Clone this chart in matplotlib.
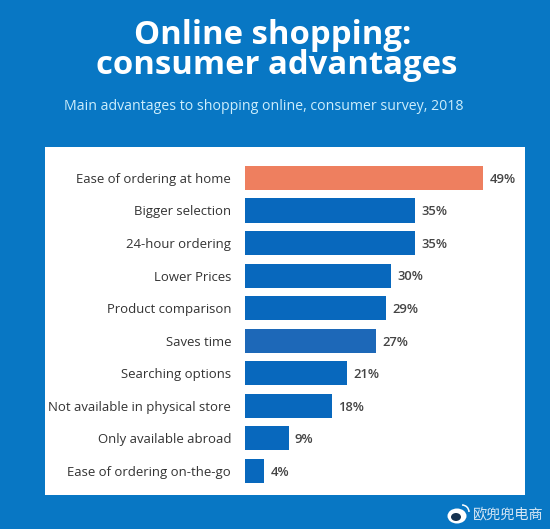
import matplotlib
matplotlib.use("Agg")
import matplotlib.pyplot as plt
from matplotlib.patches import Rectangle, Ellipse, Arc

categories = [
    "Ease of ordering at home", "Bigger selection", "24-hour ordering",
    "Lower Prices", "Product comparison", "Saves time", "Searching options",
    "Not available in physical store", "Only available abroad",
    "Ease of ordering on-the-go",
]
values = [49, 35, 35, 30, 29, 27, 21, 18, 9, 4]
bar_colors = ["#ee7f5f", "#0868bd", "#0868bd", "#0868bd", "#0868bd",
              "#1d68b8", "#0868bd", "#0868bd", "#0868bd", "#0868bd"]

W, H = 550, 529
BG = "#0877c4"
plt.rcParams["font.family"] = ["Open Sans", "DejaVu Sans"]


def fx(px):
    return px / W


def fy(py):
    return 1 - py / H


fig = plt.figure(figsize=(W / 100, H / 100), dpi=100, facecolor=BG)

# white panel behind the bars
fig.patches.append(Rectangle((fx(45), fy(495)), 480 / W, 348 / H, transform=fig.transFigure,
                             facecolor="white", edgecolor="none", zorder=-1))

ax = fig.add_axes([fx(245), fy(495), 280 / W, 348 / H], zorder=5)
ax.patch.set_alpha(0)
ax.barh(range(len(values)), values, height=0.74, color=bar_colors)
ax.set_xlim(0, 280 / 4.86)
ax.set_ylim(9.74, -0.95)
ax.set_yticks(range(len(values)))
ax.set_yticklabels(categories, fontsize=9.45, color="#333333")
ax.set_xticks([])
ax.tick_params(axis="y", length=0, pad=10)
for s in ax.spines.values():
    s.set_visible(False)
for i, v in enumerate(values):
    ax.annotate(f"{v}%", (v, i), xytext=(4.5, -1), textcoords="offset points",
                va="center", fontsize=9.4, fontweight="semibold", color="#444444")

fig.text(fx(273), fy(36), "Online shopping:", ha="center", va="center", color="white",
         fontsize=23.7, fontweight="bold")
fig.text(fx(277), fy(66), "consumer advantages", ha="center", va="center", color="white",
         fontsize=23.7, fontweight="bold")
fig.text(fx(264), fy(106), "Main advantages to shopping online, consumer survey, 2018",
         ha="center", va="center", color="#cdeefc", fontsize=10.15)

# watermark
fig.text(fx(473), fy(514), "欧兜兜电商", ha="left", va="center", color="#d8e8f5",
         fontsize=10.2, family=["Noto Sans CJK SC", "DejaVu Sans"])
fig.patches.append(Ellipse((fx(457), fy(516)), 19 / W, 15 / H, transform=fig.transFigure,
                           facecolor="white", edgecolor="none"))
fig.patches.append(Ellipse((fx(456), fy(517)), 10 / W, 8 / H, transform=fig.transFigure,
                           facecolor="#17324f", edgecolor="none"))
fig.patches.append(Arc((fx(462), fy(512)), 14 / W, 14 / H, theta1=0, theta2=90,
                       transform=fig.transFigure, color="white", lw=1.1))

fig.savefig("out.png", dpi=100, facecolor=BG)
